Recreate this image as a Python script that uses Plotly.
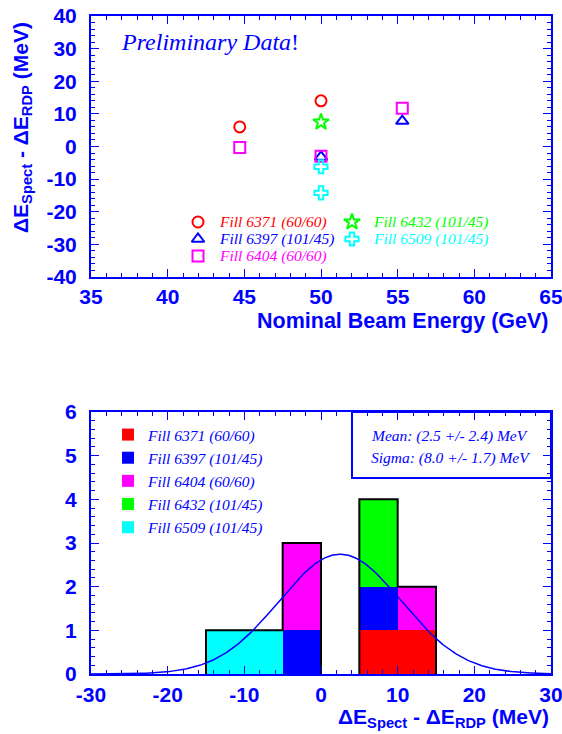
import numpy as np
import plotly.graph_objects as go

W, H = 562, 734

# ---------------- data: top panel (scatter) ----------------
fill_names = ["Fill 6371 (60/60)", "Fill 6397 (101/45)", "Fill 6404 (60/60)",
              "Fill 6432 (101/45)", "Fill 6509 (101/45)"]
fill_colors = ["#ff0000", "#0000ff", "#ff00ff", "#00ff00", "#00ffff"]
fill_symbols = ["circle-open", "triangle-up-open", "square-open", "star-open", "cross-open"]

energy_6371 = [44.7, 50.0]
delta_6371 = [6.0, 14.0]
energy_6397 = [50.0, 55.3]
delta_6397 = [-3.2, 7.8]
energy_6404 = [44.7, 50.0, 55.3]
delta_6404 = [-0.3, -3.0, 11.7]
energy_6432 = [50.0]
delta_6432 = [7.5]
energy_6509 = [50.0, 50.0]
delta_6509 = [-6.2, -14.2]

energies = [energy_6371, energy_6397, energy_6404, energy_6432, energy_6509]
deltas = [delta_6371, delta_6397, delta_6404, delta_6432, delta_6509]

top_xticks = [35, 40, 45, 50, 55, 60, 65]
top_yticks = [-40, -30, -20, -10, 0, 10, 20, 30, 40]

# ---------------- data: bottom panel (stacked histogram) ----------------
bin_edges = [-15, -10, -5, 0, 5, 10, 15]
counts_6371 = [0, 0, 0, 0, 1, 1]
counts_6397 = [0, 0, 1, 0, 1, 0]
counts_6404 = [0, 0, 2, 0, 0, 1]
counts_6432 = [0, 0, 0, 0, 2, 0]
counts_6509 = [1, 1, 0, 0, 0, 0]
counts = [counts_6371, counts_6397, counts_6404, counts_6432, counts_6509]

bot_xticks = [-30, -20, -10, 0, 10, 20, 30]
bot_yticks = [0, 1, 2, 3, 4, 5, 6]

fit_mean, fit_mean_err = 2.5, 2.4
fit_sigma, fit_sigma_err = 8.0, 1.7

# ---------------- layout helpers ----------------
BLUE = "#0000ff"
SANS = "Liberation Sans"
SERIF = "Liberation Serif"

def px_x(p):
    return p / W

def px_y(p):
    return 1 - p / H

x_dom = [px_x(91), px_x(551)]
top_dom = [px_y(277), px_y(16)]
bot_dom = [px_y(674), px_y(412)]

fig = go.Figure()

# top scatter
for name, col, sym, ex, dy in zip(fill_names, fill_colors, fill_symbols, energies, deltas):
    size = 12 if sym.startswith("star") else 11
    fig.add_trace(go.Scatter(
        x=ex, y=dy, mode="markers", xaxis="x", yaxis="y", showlegend=False,
        marker=dict(symbol=sym, size=size, color=col, line=dict(color=col, width=2)),
    ))

# bottom stacked histogram
edges = np.array(bin_edges, dtype=float)
centers = (edges[:-1] + edges[1:]) / 2
widths = np.diff(edges)
for name, col, cnt in zip(fill_names, fill_colors, counts):
    fig.add_trace(go.Bar(
        x=centers, y=cnt, width=widths, xaxis="x2", yaxis="y2",
        marker=dict(color=col, line=dict(width=0)), name=name,
        legend="legend2", showlegend=True,
    ))

# outline of total histogram (skip empty bins)
total = np.sum(np.array(counts), axis=0)
ox, oy = [], []
prev = 0.0
for i, t in enumerate(total):
    if t == 0:
        if prev != 0:
            ox += [edges[i], None]
            oy += [0.0, None]
        prev = 0.0
        continue
    if prev == 0:
        ox.append(edges[i]); oy.append(0.0)
    ox += [edges[i], edges[i + 1]]
    oy += [t, t]
    prev = t
if prev != 0:
    ox.append(edges[-1]); oy.append(0.0)
fig.add_trace(go.Scatter(x=ox, y=oy, mode="lines", xaxis="x2", yaxis="y2",
                         line=dict(color="black", width=2), showlegend=False,
                         connectgaps=False))

# gaussian fit curve
binw = widths[0]
amp = total.sum() * binw / (fit_sigma * np.sqrt(2 * np.pi))
gx = np.linspace(-30, 30, 400)
gy = amp * np.exp(-0.5 * ((gx - fit_mean) / fit_sigma) ** 2)
fig.add_trace(go.Scatter(x=gx, y=gy, mode="lines", xaxis="x2", yaxis="y2",
                         line=dict(color=BLUE, width=1.5), showlegend=False))

# top legend keys (overlay axes spanning whole figure, pixel units)
leg_pos = [(198, 222), (198, 239), (198, 256), (352, 222), (352, 239)]
for (lx, ly), col, sym in zip(leg_pos, fill_colors, fill_symbols):
    size = 12 if sym.startswith("star") else 11
    fig.add_trace(go.Scatter(
        x=[lx], y=[ly], mode="markers", xaxis="x3", yaxis="y3", showlegend=False,
        marker=dict(symbol=sym, size=size, color=col, line=dict(color=col, width=2)),
    ))

annotations = []
for (lx, ly), col, name in zip(leg_pos, fill_colors, fill_names):
    annotations.append(dict(
        x=px_x(lx + 19), y=px_y(ly), xref="paper", yref="paper",
        xanchor="left", yanchor="middle", showarrow=False, text=name,
        font=dict(family=SERIF, size=15.5, color=col, style="italic"),
    ))

annotations += [
    dict(x=px_x(210), y=px_y(42), xref="paper", yref="paper", showarrow=False,
         xanchor="center", yanchor="middle",
         text="<i>Preliminary Data</i>!",
         font=dict(family=SERIF, size=24, color=BLUE)),
    dict(x=px_x(22), y=px_y(128), xref="paper", yref="paper", showarrow=False,
         textangle=-90, xanchor="center", yanchor="middle",
         text="ΔE<sub>Spect</sub> - ΔE<sub>RDP</sub> (MeV)",
         font=dict(family=SANS, size=21, color=BLUE, weight="bold")),
    dict(x=px_x(551), y=px_y(321), xref="paper", yref="paper", showarrow=False,
         xanchor="right", yanchor="middle",
         text="Nominal Beam Energy (GeV)",
         font=dict(family=SANS, size=21.5, color=BLUE, weight="bold")),
    dict(x=px_x(551), y=px_y(718), xref="paper", yref="paper", showarrow=False,
         xanchor="right", yanchor="middle",
         text="ΔE<sub>Spect</sub> - ΔE<sub>RDP</sub> (MeV)",
         font=dict(family=SANS, size=21, color=BLUE, weight="bold")),
    dict(x=px_x(369), y=px_y(436), xref="paper", yref="paper", showarrow=False,
         xanchor="left", yanchor="middle",
         text=f"Mean: ({fit_mean:.1f} +/- {fit_mean_err:.1f}) MeV",
         font=dict(family=SERIF, size=15.5, color=BLUE, style="italic")),
    dict(x=px_x(369), y=px_y(458), xref="paper", yref="paper", showarrow=False,
         xanchor="left", yanchor="middle",
         text=f"Sigma: ({fit_sigma:.1f} +/- {fit_sigma_err:.1f}) MeV",
         font=dict(family=SERIF, size=15.5, color=BLUE, style="italic")),
]

shapes = [dict(type="rect", xref="paper", yref="paper",
               x0=px_x(352), x1=px_x(551), y0=px_y(478), y1=px_y(412),
               line=dict(color=BLUE, width=2), fillcolor="rgba(0,0,0,0)")]

tickfont = dict(family=SANS, size=21, color=BLUE, weight="bold")

def axis(domain, rng, ticks_list, minor_dtick, anchor, standoff):
    return dict(
        domain=domain, range=rng, anchor=anchor,
        tickmode="array", tickvals=ticks_list, ticktext=[str(t) for t in ticks_list],
        ticks="inside", ticklen=8, tickwidth=1, tickcolor=BLUE,
        minor=dict(dtick=minor_dtick, tick0=0, ticks="inside", ticklen=4, tickwidth=1,
                   tickcolor=BLUE, showgrid=False),
        showline=True, linecolor=BLUE, linewidth=2, mirror="ticks",
        showgrid=False, zeroline=False, tickfont=tickfont, fixedrange=True,
        automargin=False, ticklabeloverflow="allow", ticklabelstandoff=standoff,
    )

fig.update_layout(
    width=W, height=H, margin=dict(l=0, r=0, t=0, b=0, autoexpand=False),
    paper_bgcolor="white", plot_bgcolor="rgba(0,0,0,0)",
    barmode="stack", bargap=0,
    xaxis=axis(x_dom, [35, 65], top_xticks, 1, "y", 0),
    yaxis=axis(top_dom, [-40, 40], top_yticks, 2, "x", 8),
    xaxis2=axis(x_dom, [-30, 30], bot_xticks, 2, "y2", 1),
    yaxis2=axis(bot_dom, [0, 6], bot_yticks, 0.2, "x2", 8),
    xaxis3=dict(domain=[0, 1], range=[0, W], visible=False, anchor="y3",
                fixedrange=True, automargin=False),
    yaxis3=dict(domain=[0, 1], range=[H, 0], visible=False, anchor="x3",
                fixedrange=True, automargin=False),
    legend2=dict(x=px_x(108), y=px_y(418), xanchor="left", yanchor="top",
                 traceorder="normal", bgcolor="rgba(0,0,0,0)",
                 font=dict(family=SERIF, size=15.5, color=BLUE, style="italic")),
    annotations=annotations, shapes=shapes, showlegend=True,
)

fig.write_html("out.html")
